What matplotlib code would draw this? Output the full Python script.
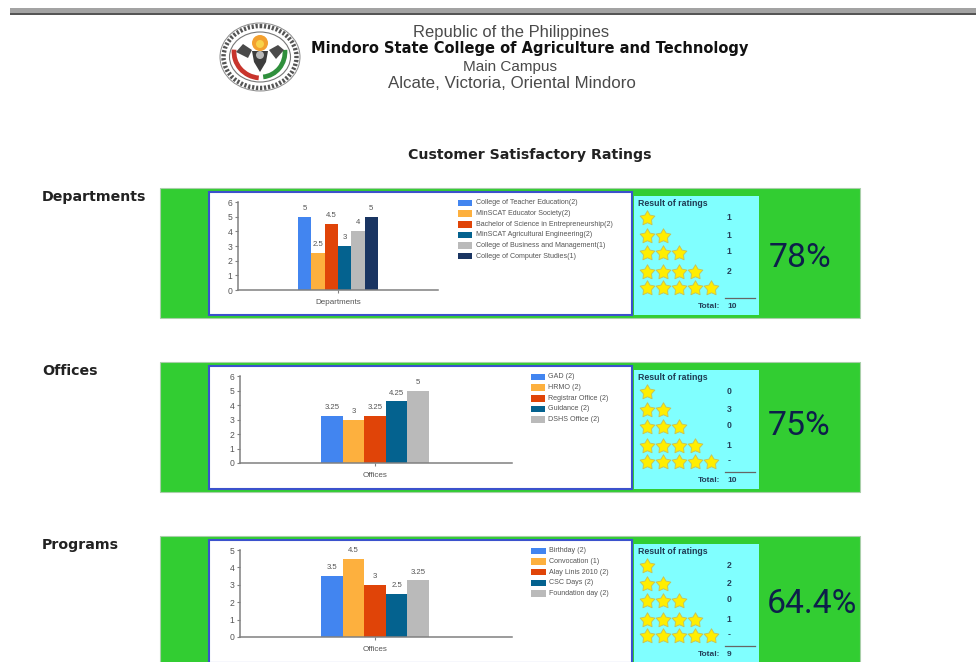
#!/usr/bin/env python3
"""Customer satisfactory ratings report page, three panels of bars and stars."""

import matplotlib
matplotlib.use('Agg')
import matplotlib.pyplot as plt
import numpy as np
from matplotlib.patches import Rectangle, Circle, Ellipse, Arc, Polygon
from matplotlib.path import Path

W, H = 976, 662

BAR_COLORS = ['#4285f0', '#fdb03e', '#e04408', '#04628f', '#bababa', '#1a3562']

HEADER_LINES = ['Republic of the Philippines',
                'Mindoro State College of Agriculture and Technology',
                'Main Campus',
                'Alcate, Victoria, Oriental Mindoro']

dept_labels = ['College of Teacher Education(2)', 'MinSCAT Educator Society(2)',
               'Bachelor of Science in Entrepreneurship(2)',
               'MinSCAT Agricultural Engineering(2)',
               'College of Business and Management(1)',
               'College of Computer Studies(1)']
dept_values = [5, 2.5, 4.5, 3, 4, 5]
dept_text = ['5', '2.5', '4.5', '3', '4', '5']
dept_counts = ['1', '1', '1', '2', '']

office_labels = ['GAD (2)', 'HRMO (2)', 'Registrar Office (2)', 'Guidance (2)',
                 'DSHS Office (2)']
office_values = [3.25, 3, 3.25, 4.25, 5]
office_text = ['3.25', '3', '3.25', '4.25', '5']
office_counts = ['0', '3', '0', '1', '-']

program_labels = ['Birthday (2)', 'Convocation (1)', 'Alay Linis 2010 (2)',
                  'CSC Days (2)', 'Foundation day (2)']
program_values = [3.5, 4.5, 3, 2.5, 3.25]
program_text = ['3.5', '4.5', '3', '2.5', '3.25']
program_counts = ['2', '2', '0', '1', '-']


def star_marker(inner=0.55):
    """Five point star, fatter than the stock marker"""
    ang = np.pi / 2 + np.arange(10) * np.pi / 5
    rad = np.where(np.arange(10) % 2 == 0, 1.0, inner)
    pts = np.column_stack([rad * np.cos(ang), rad * np.sin(ang)])
    return Path(np.vstack([pts, pts[0]]), closed=True)


STAR = star_marker()


def px_axes(fig, x0, y0, x1, y1):
    """Axes placed by pixel box, y going down from the top of the page"""
    return fig.add_axes([x0 / W, 1 - y1 / H, (x1 - x0) / W, (y1 - y0) / H])


def draw_logo(page):
    cen = (260, 57)
    page.add_patch(Ellipse(cen, 80, 68, fc='none', ec='#8a8a8a', lw=0.7))
    page.add_patch(Ellipse(cen, 73, 62, fc='none', ec='#555555', lw=3.2, ls=(0, (0.5, 0.4))))
    page.add_patch(Ellipse(cen, 61, 50, fc='white', ec='#777777', lw=0.8))
    page.add_patch(Circle((260, 43), 8, fc='#f3a02e', ec='none'))
    page.add_patch(Circle((260, 44), 4, fc='#f8d24a', ec='none'))
    page.add_patch(Arc((261, 52), 54, 52, theta1=95, theta2=185, angle=0, ec='#c8342c', lw=3.4))
    page.add_patch(Arc((261, 52), 48, 50, theta1=-5, theta2=85, angle=0, ec='#2f8f3c', lw=3.4))
    # dark figures in the middle of the seal
    page.add_patch(Polygon([(236, 52), (243, 44), (252, 50), (248, 58)], fc='#4a4a4a', ec='none'))
    page.add_patch(Polygon([(269, 50), (278, 45), (284, 50), (276, 59)], fc='#4a4a4a', ec='none'))
    page.add_patch(Polygon([(252, 51), (268, 51), (266, 62), (260, 72), (254, 62)],
                           fc='#3d3d3d', ec='none'))
    page.add_patch(Circle((260, 55), 4, fc='#b9b9b9', ec='none'))


def draw_panel(fig, page, top, name, xlabel, labels, values, text, counts, total, pct,
               ax_box, ymax, bar_span, leg_x, leg_y):
    # green strip, white chart box, cyan ratings box
    page.text(42, top + 9, name, fontsize=10.2, fontweight='bold', family='DejaVu Sans',
              ha='left', va='center', color='#222222')
    page.add_patch(Rectangle((160, top), 700, 130, fc='#32cd32', ec='#a9cfa9', lw=0.8))
    page.add_patch(Rectangle((208.5, top + 4), 423, 123, fc='white', ec='#3b52cc', lw=1.5))
    page.add_patch(Rectangle((634, top + 8), 125, 119, fc='#80ffff', ec='none'))

    ax = px_axes(fig, *ax_box)
    ax.patch.set_alpha(0)
    n = len(values)
    ax.bar(range(n), values, width=1.0, color=BAR_COLORS[:n])
    # bars fill bar_span pixels inside the axis
    per_bar = (bar_span[1] - bar_span[0]) / n
    left = -0.5 - (bar_span[0] - ax_box[0]) / per_bar
    ax.set_xlim(left, left + (ax_box[2] - ax_box[0]) / per_bar)
    ax.set_ylim(0, ymax)
    ax.set_yticks(range(ymax + 1))
    ax.set_xticks([(n - 1) / 2])
    ax.set_xticklabels([xlabel])
    ax.tick_params(axis='both', labelsize=6.2, length=2.5, width=0.8, color='#808080',
                   labelcolor='#555555', pad=1.5)
    ax.tick_params(axis='x', pad=4, labelsize=5.8)
    for lbl in ax.get_xticklabels() + ax.get_yticklabels():
        lbl.set_family('Liberation Sans')
    for side in ('top', 'right'):
        ax.spines[side].set_visible(False)
    for side in ('left', 'bottom'):
        ax.spines[side].set_color('#808080')
        ax.spines[side].set_linewidth(1.1)
    for i, val in enumerate(values):
        ax.text(i, val + ymax * 0.055, text[i], fontsize=5.6, ha='center', va='bottom',
                color='#555555', family='Liberation Sans')

    # legend rows, swatch and label
    for i, lab in enumerate(labels):
        y = leg_y + i * 10.65
        page.add_patch(Rectangle((leg_x, y - 3.2), 14.5, 6.4, fc=BAR_COLORS[i], ec='none'))
        page.text(leg_x + 18, y, lab, fontsize=5.1, ha='left', va='center', color='#555555',
                  family='Liberation Sans')

    # ratings table
    page.text(638, top + 15, 'Result of ratings', fontsize=6.3, fontweight='bold', ha='left',
              va='center', color='#1f3a52', family='Liberation Sans')
    star_y = [30, 48, 65, 84, 100]
    for r, dy in enumerate(star_y):
        xs = [647 + c * 16 for c in range(r + 1)]
        page.scatter(xs, [top + dy] * len(xs), marker=STAR, s=125, c='#ffee00',
                     edgecolors='#c6c05a', linewidths=0.6, zorder=3)
        page.text(729, top + dy - 1, counts[r], fontsize=6.2, fontweight='bold',
                  ha='center', va='center', color='#24405a', family='Liberation Sans')
    page.plot([725, 755], [top + 110, top + 110], color='#666666', lw=0.9)
    page.text(720, top + 119, 'Total:', fontsize=6, fontweight='bold', ha='right', va='center',
              color='#24405a', family='Liberation Sans')
    page.text(727, top + 119, total, fontsize=6, fontweight='bold', ha='left', va='center',
              color='#24405a', family='Liberation Sans')
    page.text(pct[0], pct[1], pct[2], fontsize=24.3, ha='center', va='center',
              color='#0d1f4a', family='Roboto')


def main():
    """Lay the page out in pixel coordinates"""
    fig = plt.figure(figsize=(W / 100, H / 100), dpi=100, facecolor='white')
    page = fig.add_axes([0, 0, 1, 1])
    page.set_xlim(0, W)
    page.set_ylim(H, 0)
    page.axis('off')

    # rule on top of the page
    page.add_patch(Rectangle((10, 8), 966, 5, fc='#a3a3a3', ec='none'))
    page.add_patch(Rectangle((10, 13), 966, 2, fc='#555555', ec='none'))

    draw_logo(page)
    ys = [33, 49, 67, 84]
    sizes = [11.9, 10.5, 11, 12.2]
    centers = [511, 530, 510, 512]
    for i, line in enumerate(HEADER_LINES):
        page.text(centers[i], ys[i], line, fontsize=sizes[i],
                  fontweight='bold' if i == 1 else 'normal', ha='center', va='center',
                  color='#111111' if i == 1 else '#4a4a4a',
                  family='DejaVu Sans' if i == 1 else 'Liberation Sans')
    page.text(530, 155, 'Customer Satisfactory Ratings', fontsize=10.2, fontweight='bold',
              ha='center', va='center', color='#222222', family='DejaVu Sans')

    draw_panel(fig, page, 188, 'Departments', 'Departments', dept_labels, dept_values,
               dept_text, dept_counts, '10', (800, 258, '78%'),
               (238, 202, 438, 290), 6, (298, 378), 457.5, 203)
    draw_panel(fig, page, 362, 'Offices', 'Offices', office_labels, office_values,
               office_text, office_counts, '10', (799, 426, '75%'),
               (240, 376, 512, 463), 6, (321, 429), 530.5, 377)
    draw_panel(fig, page, 536, 'Programs', 'Offices', program_labels, program_values,
               program_text, program_counts, '9', (812, 604, '64.4%'),
               (240, 550, 512, 637), 5, (321, 429), 531, 551)

    fig.savefig('out.png', dpi=100)


if __name__ == "__main__":
    main()
